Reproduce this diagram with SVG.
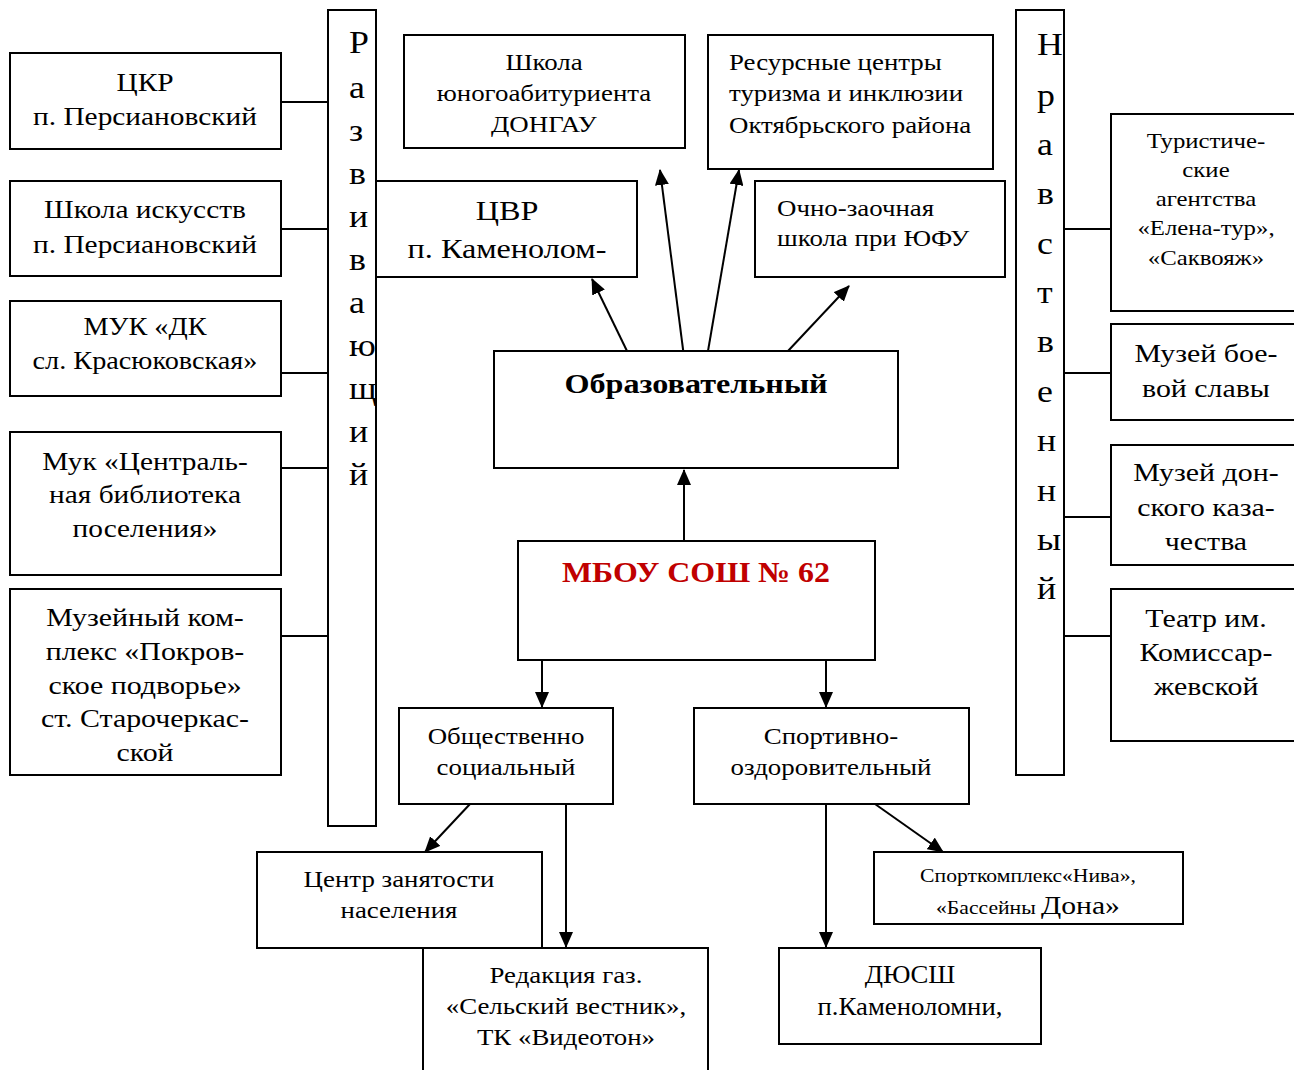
<svg xmlns="http://www.w3.org/2000/svg" width="1294" height="1070" viewBox="0 0 1294 1070">
<style>
.b{fill:#fff;stroke:#000;stroke-width:2}
.t{font-family:"Liberation Serif","Times New Roman",serif;fill:#000;text-anchor:middle;transform-box:fill-box;transform-origin:center;transform:scaleX(1.12)}
.l{text-anchor:start;transform-origin:left center}
.x13{transform:scaleX(1.13)}
.x15{transform:scaleX(1.15)}
.x18{transform:scaleX(1.18)}
.x14{transform:scaleX(1.14)}
.x07{transform:scaleX(1.07)}
.x10{transform:scaleX(1.10)}
.c{stroke:#000;stroke-width:2;fill:none}
.a{stroke:#000;stroke-width:2;fill:none;marker-end:url(#ah)}
.v{font-family:"Liberation Serif","Times New Roman",serif;font-size:32px;fill:#000;transform-box:fill-box;transform-origin:left center;transform:scaleX(1.12)}
</style>
<defs>
<marker id="ah" markerWidth="16" markerHeight="14" refX="15" refY="7" orient="auto" markerUnits="userSpaceOnUse">
<path d="M0,0 L16,7 L0,14 Z" fill="#000"/>
</marker>
</defs>
<rect width="1294" height="1070" fill="#fff"/>

<g id="connectors">
<line class="c" x1="281" y1="102" x2="328" y2="102"/>
<line class="c" x1="281" y1="229" x2="328" y2="229"/>
<line class="c" x1="281" y1="373" x2="328" y2="373"/>
<line class="c" x1="281" y1="468" x2="328" y2="468"/>
<line class="c" x1="281" y1="636" x2="328" y2="636"/>
<line class="c" x1="1064" y1="229" x2="1111" y2="229"/>
<line class="c" x1="1064" y1="373" x2="1111" y2="373"/>
<line class="c" x1="1064" y1="517" x2="1111" y2="517"/>
<line class="c" x1="1064" y1="636" x2="1111" y2="636"/>
<line class="a" x1="627" y1="351" x2="592" y2="279"/>
<line class="a" x1="684" y1="357" x2="660" y2="170"/>
<line class="a" x1="708" y1="351" x2="739" y2="170"/>
<line class="a" x1="788" y1="351" x2="849" y2="286"/>
<line class="a" x1="684" y1="541" x2="684" y2="470"/>
<line class="a" x1="542" y1="660" x2="542" y2="707"/>
<line class="a" x1="826" y1="660" x2="826" y2="707"/>
<line class="a" x1="470" y1="804" x2="425" y2="852"/>
<line class="a" x1="566" y1="804" x2="566" y2="947"/>
<line class="a" x1="826" y1="804" x2="826" y2="947"/>
<line class="a" x1="875" y1="804" x2="943" y2="852"/>
</g>

<g id="bar-left">
<rect class="b" x="328" y="10" width="48" height="816"/>
<text class="v" x="349" y="53">Р</text>
<text class="v" x="349" y="98">а</text>
<text class="v" x="349" y="141">з</text>
<text class="v" x="349" y="184">в</text>
<text class="v" x="349" y="227">и</text>
<text class="v" x="349" y="270">в</text>
<text class="v" x="349" y="313">а</text>
<text class="v" x="349" y="356">ю</text>
<text class="v" x="349" y="399">щ</text>
<text class="v" x="349" y="442">и</text>
<text class="v" x="349" y="485">й</text>
</g>

<g id="bar-right">
<rect class="b" x="1016" y="10" width="48" height="765"/>
<text class="v" x="1037" y="55">Н</text>
<text class="v" x="1037" y="106">р</text>
<text class="v" x="1037" y="155">а</text>
<text class="v" x="1037" y="204">в</text>
<text class="v" x="1037" y="254">с</text>
<text class="v" x="1037" y="303">т</text>
<text class="v" x="1037" y="352">в</text>
<text class="v" x="1037" y="402">е</text>
<text class="v" x="1037" y="451">н</text>
<text class="v" x="1037" y="501">н</text>
<text class="v" x="1037" y="550">ы</text>
<text class="v" x="1037" y="599">й</text>
</g>

<g id="n-ckr">
<rect class="b" x="10" y="53" width="271" height="96"/>
<text class="t x13" font-size="26" x="145" y="91">ЦКР</text>
<text class="t x13" font-size="26" x="145" y="125">п. Персиановский</text>
</g>
<g id="n-art">
<rect class="b" x="10" y="181" width="271" height="95"/>
<text class="t x13" font-size="26" x="145" y="218">Школа искусств</text>
<text class="t x13" font-size="26" x="145" y="253">п. Персиановский</text>
</g>
<g id="n-muk-dk">
<rect class="b" x="10" y="301" width="271" height="95"/>
<text class="t x13" font-size="25" x="145" y="335">МУК «ДК</text>
<text class="t x13" font-size="25" x="145" y="369">сл. Красюковская»</text>
</g>
<g id="n-lib">
<rect class="b" x="10" y="432" width="271" height="143"/>
<text class="t x13" font-size="26" x="145" y="470">Мук «Централь-</text>
<text class="t x13" font-size="26" x="145" y="503">ная библиотека</text>
<text class="t x13" font-size="26" x="145" y="537">поселения»</text>
</g>
<g id="n-museum-complex">
<rect class="b" x="10" y="589" width="271" height="186"/>
<text class="t x15" font-size="26" x="145" y="626">Музейный ком-</text>
<text class="t x15" font-size="26" x="145" y="660">плекс «Покров-</text>
<text class="t x15" font-size="26" x="145" y="694">ское подворье»</text>
<text class="t x15" font-size="26" x="145" y="727">ст. Старочеркас-</text>
<text class="t x15" font-size="26" x="145" y="761">ской</text>
</g>

<g id="n-donsau">
<rect class="b" x="404" y="35" width="281" height="113"/>
<text class="t" font-size="24" x="544" y="70">Школа</text>
<text class="t" font-size="24" x="544" y="101">юногоабитуриента</text>
<text class="t" font-size="24" x="544" y="132">ДОНГАУ</text>
</g>
<g id="n-resource">
<rect class="b" x="708" y="35" width="285" height="134"/>
<text class="t l" font-size="24" x="729" y="70">Ресурсные центры</text>
<text class="t l" font-size="24" x="729" y="101">туризма и инклюзии</text>
<text class="t l" font-size="24" x="729" y="133">Октябрьского района</text>
</g>
<g id="n-cvr">
<rect class="b" x="376" y="181" width="261" height="96"/>
<text class="t x15" font-size="28" x="507" y="220">ЦВР</text>
<text class="t x15" font-size="28" x="507" y="258">п. Каменолом-</text>
</g>
<g id="n-ufu">
<rect class="b" x="755" y="181" width="250" height="96"/>
<text class="t l" font-size="24" x="777" y="216">Очно-заочная</text>
<text class="t l" font-size="24" x="777" y="246">школа при ЮФУ</text>
</g>

<g id="n-edu">
<rect class="b" x="494" y="351" width="404" height="117"/>
<text class="t x15" font-size="28" font-weight="bold" x="696" y="393">Образовательный</text>
</g>
<g id="n-school">
<rect class="b" x="518" y="541" width="357" height="119"/>
<text class="t x10" font-size="29" font-weight="bold" x="696" y="582" style="fill:#c00000">МБОУ СОШ № 62</text>
</g>

<g id="n-social">
<rect class="b" x="399" y="708" width="214" height="96"/>
<text class="t" font-size="24" x="506" y="744">Общественно</text>
<text class="t" font-size="24" x="506" y="775">социальный</text>
</g>
<g id="n-sport">
<rect class="b" x="694" y="708" width="275" height="96"/>
<text class="t" font-size="24" x="831" y="744">Спортивно-</text>
<text class="t" font-size="24" x="831" y="775">оздоровительный</text>
</g>

<g id="n-employment">
<rect class="b" x="257" y="852" width="285" height="96"/>
<text class="t" font-size="24" x="399" y="887">Центр занятости</text>
<text class="t" font-size="24" x="399" y="918">населения</text>
</g>
<g id="n-press">
<rect class="b" x="423" y="948" width="285" height="130"/>
<text class="t" font-size="24" x="566" y="983">Редакция газ.</text>
<text class="t" font-size="24" x="566" y="1014">«Сельский вестник»,</text>
<text class="t" font-size="24" x="566" y="1045">ТК «Видеотон»</text>
</g>
<g id="n-niva">
<rect class="b" x="874" y="852" width="309" height="72"/>
<text class="t x14" font-size="19" x="1028" y="882">Спорткомплекс«Нива»,</text>
<text class="t x14" font-size="19" x="1028" y="914">«Бассейны <tspan font-size="26">Дона»</tspan></text>
</g>
<g id="n-dussh">
<rect class="b" x="779" y="948" width="262" height="96"/>
<text class="t x07" font-size="25" x="910" y="983">ДЮСШ</text>
<text class="t x07" font-size="25" x="910" y="1015">п.Каменоломни,</text>
</g>

<g id="n-tour">
<rect class="b" x="1111" y="114" width="200" height="197"/>
<text class="t x18" font-size="21" x="1206" y="148">Туристиче-</text>
<text class="t x18" font-size="21" x="1206" y="177">ские</text>
<text class="t x18" font-size="21" x="1206" y="206">агентства</text>
<text class="t x18" font-size="21" x="1206" y="235">«Елена-тур»,</text>
<text class="t x18" font-size="21" x="1206" y="265">«Саквояж»</text>
</g>
<g id="n-glory">
<rect class="b" x="1111" y="324" width="200" height="96"/>
<text class="t x15" font-size="26" x="1206" y="362">Музей бое-</text>
<text class="t x15" font-size="26" x="1206" y="397">вой славы</text>
</g>
<g id="n-cossack">
<rect class="b" x="1111" y="445" width="200" height="120"/>
<text class="t x15" font-size="26" x="1206" y="481">Музей дон-</text>
<text class="t x15" font-size="26" x="1206" y="516">ского каза-</text>
<text class="t x15" font-size="26" x="1206" y="550">чества</text>
</g>
<g id="n-theatre">
<rect class="b" x="1111" y="589" width="200" height="152"/>
<text class="t x15" font-size="26" x="1206" y="627">Театр им.</text>
<text class="t x15" font-size="26" x="1206" y="661">Комиссар-</text>
<text class="t x15" font-size="26" x="1206" y="695">жевской</text>
</g>
</svg>
